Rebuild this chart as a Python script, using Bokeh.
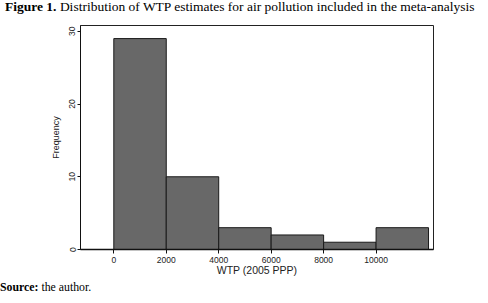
from bokeh.plotting import figure
from bokeh.models import Range1d, Div
from bokeh.layouts import column
from bokeh.embed import file_html
from bokeh.resources import INLINE

# Data
bin_left = [0, 2000, 4000, 6000, 8000, 10000]
bin_right = [2000, 4000, 6000, 8000, 10000, 12000]
frequency = [29, 10, 3, 2, 1, 3]
x_ticks = [0, 2000, 4000, 6000, 8000, 10000]
y_ticks = [0, 10, 20, 30]

title_bold = "Figure 1."
title_rest = "Distribution of WTP estimates for air pollution included in the meta-analysis"
source_bold = "Source:"
source_rest = "the author."

W = 488
TITLE_H, FIG_H, SRC_H = 18, 263, 22

title_div = Div(text=f"<b>{title_bold}</b> {title_rest}", width=W, height=TITLE_H,
                margin=(0, 0, 0, 0),
                styles={"font-family": "Liberation Serif", "font-size": "13.5px",
                        "line-height": "14px", "padding-left": "5px",
                        "white-space": "nowrap", "color": "black",
                        "overflow": "visible"})
source_div = Div(text=f"<b>{source_bold}</b> {source_rest}", width=W, height=SRC_H,
                 margin=(0, 0, 0, 0),
                 styles={"font-family": "Liberation Serif", "font-size": "11.8px",
                         "line-height": "12px", "padding-left": "0px",
                         "white-space": "nowrap", "color": "black"})

p = figure(width=W, height=FIG_H, output_backend="svg", toolbar_location=None,
           x_range=Range1d(-1270, 12190), y_range=Range1d(0, 30.8),
           min_border_left=80, min_border_right=55,
           min_border_top=7, min_border_bottom=32, margin=(0, 0, 0, 0))
p.title.text = ""
p.grid.visible = False
p.outline_line_color = "#222222"
p.outline_line_width = 1
p.background_fill_color = "white"
p.border_fill_color = "white"

p.quad(left=bin_left, right=bin_right, top=frequency, bottom=0,
       fill_color="#686868", line_color="#1a1a1a", line_width=1)

for ax in (p.xaxis[0], p.yaxis[0]):
    ax.minor_tick_line_color = None
    ax.major_tick_in = 0
    ax.major_label_text_font = "Liberation Sans"
    ax.major_label_text_color = "#222222"
    ax.axis_label_text_font = "Liberation Sans"
    ax.axis_label_text_font_style = "normal"
    ax.axis_label_text_color = "#222222"
    ax.axis_line_color = "#111111"
    ax.major_tick_line_color = "#111111"

p.xaxis.ticker = x_ticks
p.xaxis.major_tick_out = 4
p.xaxis.axis_line_width = 1.5
p.xaxis.major_label_text_font_size = "8.5px"
p.xaxis.major_label_standoff = 3
p.xaxis.axis_label = "WTP (2005 PPP)"
p.xaxis.axis_label_text_font_size = "10.5px"
p.xaxis.axis_label_standoff = -2

p.yaxis.ticker = y_ticks
p.yaxis.major_tick_out = 3
p.yaxis.major_label_orientation = "vertical"
p.yaxis.major_label_text_font_size = "8.5px"
p.yaxis.major_label_standoff = 2
p.yaxis.axis_label = "Frequency"
p.yaxis.axis_label_text_font_size = "9px"
p.yaxis.axis_label_standoff = 6

layout = column(title_div, p, source_div, spacing=0, margin=(0, 0, 0, 0))

open("out.html", "w").write(file_html(layout, INLINE))
